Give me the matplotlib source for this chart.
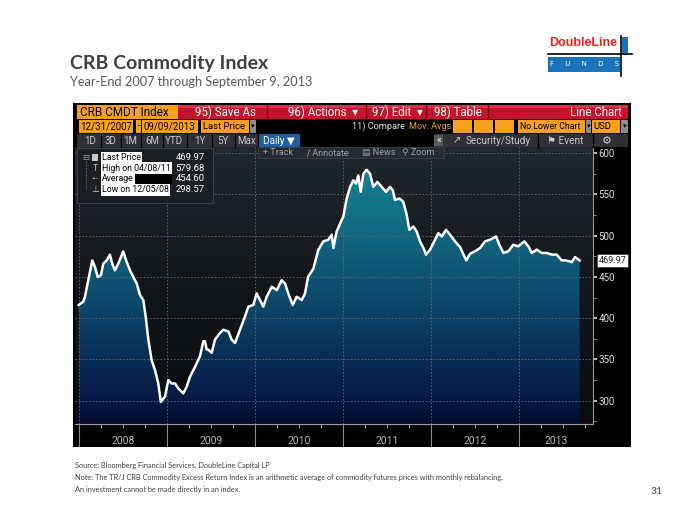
import numpy as np
import matplotlib
matplotlib.use('Agg')
from matplotlib import pyplot as plt
from matplotlib.patches import Rectangle, Polygon
from matplotlib.colors import LinearSegmentedColormap

# CRB index levels (decimal year, index level)
dates = [2007.997, 2008.049, 2008.068, 2008.106, 2008.151, 2008.182, 2008.213, 2008.250,
         2008.276, 2008.315, 2008.352, 2008.378, 2008.409, 2008.447, 2008.503, 2008.542,
         2008.580, 2008.617, 2008.656, 2008.693, 2008.731, 2008.758, 2008.788, 2008.826,
         2008.864, 2008.901, 2008.930, 2008.977, 2009.015, 2009.053, 2009.091, 2009.128,
         2009.185, 2009.224, 2009.261, 2009.318, 2009.375, 2009.413, 2009.432, 2009.451,
         2009.469, 2009.508, 2009.545, 2009.602, 2009.640, 2009.697, 2009.735, 2009.773,
         2009.830, 2009.886, 2009.924, 2009.981, 2010.019, 2010.057, 2010.094, 2010.133,
         2010.190, 2010.247, 2010.303, 2010.341, 2010.378, 2010.428, 2010.474, 2010.531,
         2010.568, 2010.603, 2010.663, 2010.720, 2010.776, 2010.833, 2010.872, 2010.890,
         2010.928, 2010.985, 2011.003, 2011.042, 2011.080, 2011.117, 2011.148, 2011.174,
         2011.201, 2011.231, 2011.268, 2011.307, 2011.344, 2011.390, 2011.440, 2011.489,
         2011.534, 2011.565, 2011.591, 2011.640, 2011.685, 2011.724, 2011.753, 2011.799,
         2011.837, 2011.875, 2011.913, 2011.943, 2011.989, 2012.045, 2012.083, 2012.122,
         2012.170, 2012.216, 2012.273, 2012.330, 2012.400, 2012.443, 2012.500, 2012.557,
         2012.614, 2012.670, 2012.739, 2012.776, 2012.822, 2012.878, 2012.935, 2012.991,
         2013.060, 2013.106, 2013.144, 2013.201, 2013.258, 2013.315, 2013.372, 2013.428,
         2013.485, 2013.530, 2013.599, 2013.636, 2013.688]
prices = [416, 420, 426, 446, 470, 462, 450, 452,
          466, 470, 477, 466, 458, 466, 481, 468,
          458, 450, 442, 428, 422, 402, 374, 349,
          337, 321, 298.57, 305, 325, 321, 321, 315,
          309, 317, 329, 341, 354, 372, 372, 362,
          362, 358, 374, 382, 386, 384, 374, 370,
          386, 402, 414, 416, 430, 422, 414, 426,
          438, 434, 446, 442, 430, 416, 426, 422,
          430, 450, 460, 483, 493, 495, 501, 485,
          505, 519, 523, 545, 559, 567, 563, 573,
          553, 575, 579.68, 575, 559, 565, 559, 553,
          559, 555, 543, 545, 541, 525, 507, 511,
          505, 493, 485, 477, 483, 495, 503, 499,
          507, 501, 493, 486, 470, 478, 481, 485,
          493, 495, 499, 489, 479, 481, 489, 487,
          493, 487, 479, 483, 479, 479, 477, 477,
          470, 470, 468, 474, 469.97]

avg_price = 454.60
high_date = '04/08/11'
low_date = '12/05/08'

year_starts = [2008, 2009, 2010, 2011, 2012, 2013]
year_labels = ['2008', '2009', '2010', '2011', '2012', '2013']
y_ticks = [300, 350, 400, 450, 500, 550, 600]

W, H = 700, 525
x_lo, x_hi = 2007.955, 2013.84
y_lo, y_hi = 271.9, 607.3

ORANGE = '#f5a01e'
RED = '#c3132d'
UI_FONT = ['Roboto', 'DejaVu Sans']

fig = plt.figure(figsize=(7, 5.25), dpi=100)
fig.patch.set_facecolor('white')


# little helpers working in screen pixels (origin top left)
def box(x0, y0, x1, y1, color, z=1, ec='none', lw=0):
    fig.add_artist(Rectangle((x0 / W, 1 - y1 / H), (x1 - x0) / W, (y1 - y0) / H,
                             transform=fig.transFigure, facecolor=color,
                             edgecolor=ec, linewidth=lw, zorder=z))


def txt(x, y, s, size=7.5, color='white', ha='left', z=6, family=UI_FONT, **kw):
    fig.text(x / W, 1 - y / H, s, fontsize=size, color=color, ha=ha, va='center',
             zorder=z, family=family, **kw)


def vline(x, y0, y1, color, lw=1, z=2, ls='-'):
    fig.add_artist(plt.Line2D([x / W, x / W], [1 - y0 / H, 1 - y1 / H],
                              transform=fig.transFigure, color=color, lw=lw, zorder=z, ls=ls))


def hline(y, x0, x1, color, lw=1, z=2):
    fig.add_artist(plt.Line2D([x0 / W, x1 / W], [1 - y / H, 1 - y / H],
                              transform=fig.transFigure, color=color, lw=lw, zorder=z))


# slide title
txt(70, 63, 'CRB Commodity Index', size=14, color='#3f3f3f', family='Lato', weight='bold')
txt(70, 82, 'Year-End 2007 through September 9, 2013', size=9.2, color='#595959', family='Lato')

# logo
txt(583, 43, 'DoubleLine', size=9, color='#e2231a', ha='center', family='Liberation Sans',
    weight='bold')
box(548, 57, 620, 72, '#1a74bb')
txt(584, 64.5, 'F     U     N     D     S', size=5, color='white', ha='center', family='DejaVu Sans')
box(622, 37, 628, 53, '#1a74bb')
hline(54, 548, 632, 'black', lw=1.2)
vline(620.5, 36, 76, 'black', lw=1.2)

# bloomberg panel
box(73, 103, 631, 447, 'black', z=-1)

# row 1
box(77, 105, 178, 119, ORANGE)
txt(80, 112, 'CRB CMDT Index', size=8.5, color='black')
box(178, 105, 628, 119, RED)
box(178, 105, 628, 108, '#d8334a', z=1.1)
for sx in [267, 366, 426, 488]:
    vline(sx, 105, 119, '#7a0a18', lw=1)
txt(195, 112, '95) Save As', size=8.3)
txt(288, 112, '96) Actions  \u25be', size=8.3)
txt(372, 112, '97) Edit  \u25be', size=8.3)
txt(434, 112, '98) Table', size=8.3)
txt(622, 112, 'Line Chart', size=8.3, ha='right')

# row 2
for (a, b, s, fs) in [(79, 133, '12/31/2007', 7), (136, 141, '-', 7), (142, 198, '09/09/2013', 7),
                      (201, 249, 'Last Price', 6.8), (518, 585, 'No Lower Chart', 6.3),
                      (592, 620, 'USD', 6.8)]:
    box(a, 120, b, 133, ORANGE)
    txt(a + 1.5, 126.5, s, size=fs, color='black')
for (a, b) in [(250, 256), (586, 591), (621, 628)]:
    box(a, 120, b, 133, '#8c8c8c')
    txt((a + b) / 2, 126.5, '\u25be', size=5, color='black', ha='center')
for a in [453, 474, 495]:
    box(a, 120, a + 19, 133, ORANGE)
txt(352, 126.5, '11) Compare', size=6.6, color='#e6e6e6')
txt(409, 126.5, 'Mov. Avgs', size=6.6, color=ORANGE)

# row 3
box(77, 134, 258, 147, '#2e3033')
btn_centers = [90, 111, 130, 152, 174, 200, 223, 247]
for c, s in zip(btn_centers, ['1D', '3D', '1M', '6M', 'YTD', '1Y', '5Y', 'Max']):
    txt(c, 140.5, s, size=7, color='#c8c8c8', ha='center')
for i in range(len(btn_centers) - 1):
    vline((btn_centers[i] + btn_centers[i + 1]) / 2, 134, 147, 'black', lw=0.8)
box(259, 134, 300, 147, '#1f5fa0')
txt(263, 140.5, 'Daily \u25bc', size=7.2)
box(434, 134, 628, 147, '#2e3033')
box(434, 135, 443, 146, '#55585c', z=1.1)
txt(438.5, 140.5, '\u00ab', size=7, ha='center')
txt(453, 140.5, '\u2197', size=7, color='#c8c8c8')
txt(466, 140.5, 'Security/Study', size=7.2, color='#c8c8c8')
txt(547, 140.5, '\u2691 Event', size=7.2, color='#c8c8c8')
txt(607, 140.5, '\u2699', size=8, color='#c8c8c8', ha='center')
for sx in [538, 593]:
    vline(sx, 134, 147, 'black', lw=1, z=1.2)

# main chart
ax = fig.add_axes([75 / W, 1 - 424 / H, 518 / W, 277 / H])
ax.set_facecolor('#111417')
ax.set_xlim(x_lo, x_hi)
ax.set_ylim(y_lo, y_hi)

bg_cmap = LinearSegmentedColormap.from_list('bg', ['#0a0c0f', '#13171b', '#20272d'])
ax.imshow(np.linspace(0, 1, 256).reshape(-1, 1), cmap=bg_cmap, aspect='auto',
          origin='lower', extent=[x_lo, x_hi, y_lo, y_hi], zorder=0)

fill_cmap = LinearSegmentedColormap.from_list(
    'fill', [(0.0, '#030b30'), (0.08, '#061944'), (0.38, '#0c4064'),
             (0.68, '#10677f'), (0.92, '#15818f'), (1.0, '#1a8b99')])
grad = ax.imshow(np.linspace(0, 1, 256).reshape(-1, 1), cmap=fill_cmap, aspect='auto',
                 origin='lower', extent=[x_lo, x_hi, y_lo, y_hi], zorder=1)
verts = [(dates[0], y_lo)] + list(zip(dates, prices)) + [(dates[-1], y_lo)]
clip = Polygon(verts, closed=True, transform=ax.transData, facecolor='none', edgecolor='none')
ax.add_patch(clip)
grad.set_clip_path(clip)

for yv in y_ticks:
    ax.axhline(yv, color='#5d656d', lw=0.7, ls=(0, (1.5, 2)), zorder=2)
for xv in year_starts:
    ax.axvline(xv, color='#5d656d', lw=0.7, ls=(0, (1.5, 2)), zorder=2)

ax.plot(dates, prices, color='white', lw=1.8, zorder=3)

for side in ['top', 'left']:
    ax.spines[side].set_visible(False)
ax.spines['right'].set_color('#9a9a9a')
ax.spines['bottom'].set_color('#9a9a9a')
ax.spines['right'].set_linewidth(0.8)
ax.spines['bottom'].set_linewidth(0.8)

ax.yaxis.tick_right()
ax.set_yticks(y_ticks)
ax.set_yticks(np.arange(275, 601, 25), minor=True)
ax.tick_params(axis='y', which='major', colors='#dddddd', labelsize=7, length=3, width=1.2, pad=1)
ax.tick_params(axis='y', which='minor', colors='#9a9a9a', length=2)
for lab in ax.get_yticklabels():
    lab.set_family(UI_FONT)

quarters = np.arange(2008.0, 2013.84, 0.25)
ax.set_xticks(quarters)
ax.set_xticklabels([])
ax.tick_params(axis='x', colors='#9a9a9a', length=3, width=0.8)

xt = ax.get_xaxis_transform()
for xv in year_starts:
    ax.plot([xv, xv], [0, -22 / 277], transform=xt, color='#8a8a8a', lw=0.8, clip_on=False)
label_pos = [y + 0.5 for y in year_starts[:-1]] + [(year_starts[-1] + x_hi) / 2]
for xp, s in zip(label_pos, year_labels):
    ax.text(xp, -17 / 277, s, transform=xt, ha='center', va='center', fontsize=7.5,
            color='#b5b5b5', family=UI_FONT)

# last price tag
ax.annotate(f'{prices[-1]:.2f}', xy=(1, prices[-1]), xycoords=('axes fraction', 'data'),
            xytext=(4, 0), textcoords='offset points', va='center', ha='left', fontsize=6.5,
            color='#222222', family=UI_FONT, annotation_clip=False,
            bbox=dict(boxstyle='square,pad=0.2', fc='white', ec='#444444', lw=0.6))

# toolbar overlay
box(258, 147, 444, 158, '#262b30', z=5, ec='#3c4248', lw=0.6)
txt(263, 152.5, '+ Track', size=6.5, color='#9aa0a6')
txt(307, 152.5, '\u2215 Annotate', size=6.5, color='#9aa0a6')
txt(362, 152.5, '\u25a4 News', size=6.5, color='#9aa0a6')
txt(402, 152.5, '\u26b2 Zoom', size=6.5, color='#9aa0a6')

# stats legend overlay
box(77, 148, 213, 203, '#1b1f23', z=5, ec='#3a3f44', lw=0.8)
rows_y = [157.5, 168, 179, 190]
row_labels = ['Last Price', 'High on ' + high_date, 'Average', 'Low on ' + low_date]
row_values = [prices[-1], max(prices), avg_price, min(prices)]
for yy, lab, val in zip(rows_y, row_labels, row_values):
    txt(102, yy, lab, size=6.3, color='black',
        bbox=dict(boxstyle='square,pad=0.12', fc='white', ec='none'))
    txt(205, yy, f'{val:.2f}', size=6.8, color='white', ha='right')
box(134, 174, 172, 184, 'black', z=5.5)
box(92, 154, 98, 161, '#c8c8c8', z=6)
txt(86, 157.5, '\u229f', size=6, color='#9a9a9a', ha='center', family='DejaVu Sans')
vline(86, 161, 190, '#9a9a9a', lw=0.6, z=6, ls=':')
txt(95, 168, 'T', size=6.5, color='#c8c8c8', ha='center')
txt(95, 179, '-\u2022-', size=5.5, color='#c8c8c8', ha='center')
txt(95, 190, '\u22a5', size=6.5, color='#c8c8c8', ha='center', family='DejaVu Sans')

# footer
foot = ['Source: Bloomberg Financial Services, DoubleLine Capital LP',
        'Note: The TR/J CRB Commodity Excess Return Index is an arithmetic average of commodity futures prices with monthly rebalancing.',
        'An investment cannot be made directly in an index.']
for i, s in enumerate(foot):
    txt(75, 465 + 12.3 * i, s, size=5.3, color='#404040', family='Lato')
txt(651, 492, '31', size=7.5, color='#404040', family='Lato')

plt.savefig('out.png', dpi=100)
